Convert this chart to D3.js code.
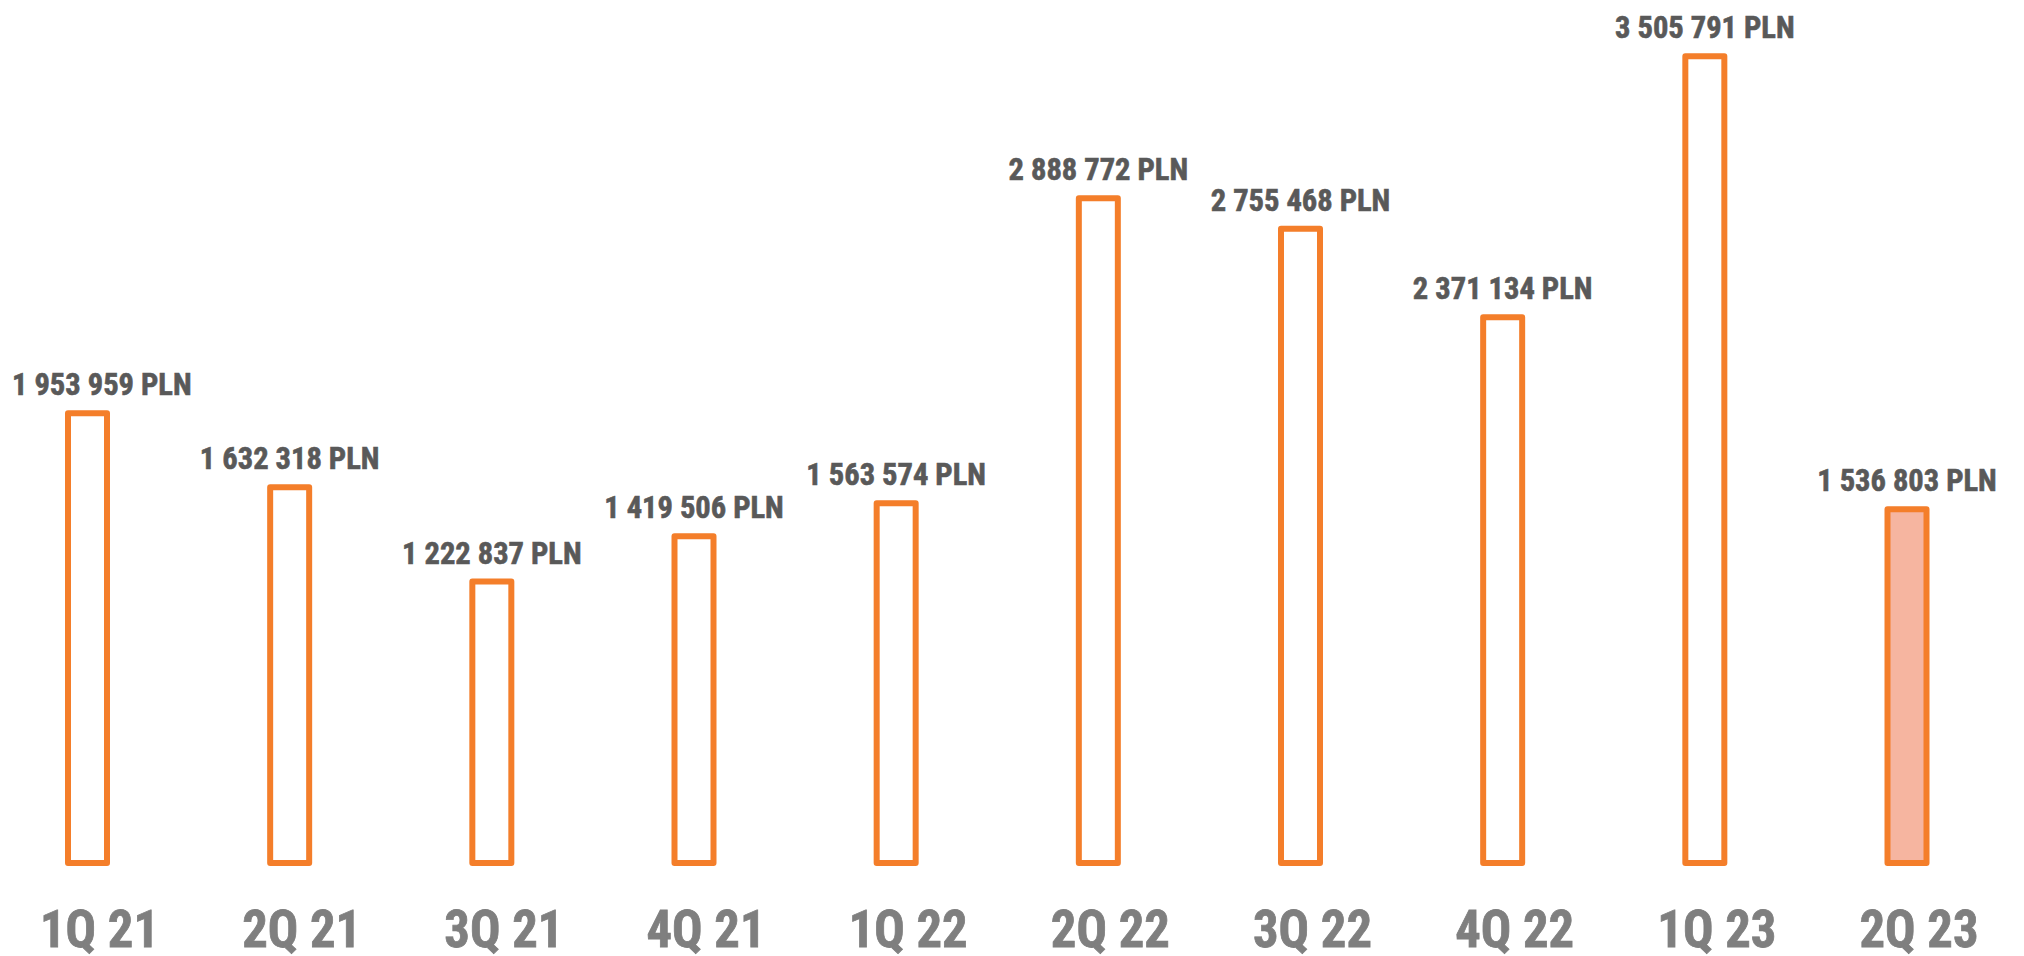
<!DOCTYPE html>
<html>
<head>
<meta charset="utf-8">
<script src="https://cdn.jsdelivr.net/npm/d3@7"></script>
<style>
  html, body { margin: 0; padding: 0; background: #ffffff; }
  svg { display: block; }
  text { font-family: "Roboto Condensed", Roboto, "Liberation Sans", sans-serif; font-weight: 700; }
</style>
</head>
<body>
<svg id="chart" width="2024" height="956"></svg>
<script>
const categories = ["1Q 21", "2Q 21", "3Q 21", "4Q 21", "1Q 22", "2Q 22", "3Q 22", "4Q 22", "1Q 23", "2Q 23"];
const values = [1953959, 1632318, 1222837, 1419506, 1563574, 2888772, 2755468, 2371134, 3505791, 1536803];
const highlighted = [false, false, false, false, false, false, false, false, false, true];

const W = 2024, H = 956;
const svg = d3.select("#chart");

const x = d3.scalePoint().domain(categories).range([87.5, 1907]).padding(0);
const y = d3.scaleLinear().domain([0, 3750000]).range([863, 0]);
const barW = 39;

const fmt = v => d3.format(",")(v).replace(/,/g, " ") + " PLN";

// bars
svg.append("g").selectAll("rect")
  .data(categories)
  .join("rect")
  .attr("x", d => x(d) - barW / 2)
  .attr("y", (d, i) => y(values[i]))
  .attr("width", barW)
  .attr("height", (d, i) => y(0) - y(values[i]))
  .attr("fill", (d, i) => highlighted[i] ? "#F6B5A0" : "#ffffff")
  .attr("stroke", "#F47E2A")
  .attr("stroke-width", 6)
  .attr("stroke-linejoin", "round");

// horizontal condensing factor to mimic the narrow bold face of the reference
function condense(refText, targetW, size) {
  const probe = svg.append("text").attr("font-size", size).text(refText);
  const w = probe.node().getComputedTextLength();
  probe.remove();
  return Math.min(1, targetW / w);
}

const valSize = 30.5;
const kVal = condense("1 953 959 PLN", 190, valSize);

svg.append("g").selectAll("text")
  .data(categories)
  .join("text")
  .attr("font-size", valSize)
  .attr("fill", "#595959")
  .attr("stroke", "#595959")
  .attr("stroke-width", 0.6)
  .attr("text-anchor", "middle")
  .text((d, i) => fmt(values[i]))
  .attr("transform", function(d, i) {
    const w = this.getComputedTextLength() * kVal;
    let cx = x(d);
    if (cx - w / 2 < 12) cx = 12 + w / 2;
    const by = y(values[i]) - 18;
    return `translate(${cx},${by}) scale(${kVal},1)`;
  });

const catSize = 52.5;
const kCat = condense("1Q 21", 119, catSize);

svg.append("g").selectAll("text")
  .data(categories)
  .join("text")
  .attr("font-size", catSize)
  .attr("fill", "#7F7F7F")
  .attr("stroke", "#7F7F7F")
  .attr("stroke-width", 0.8)
  .attr("text-anchor", "middle")
  .attr("transform", d => `translate(${x(d) + 12},947) scale(${kCat},1)`)
  .text(d => d);
</script>
</body>
</html>
